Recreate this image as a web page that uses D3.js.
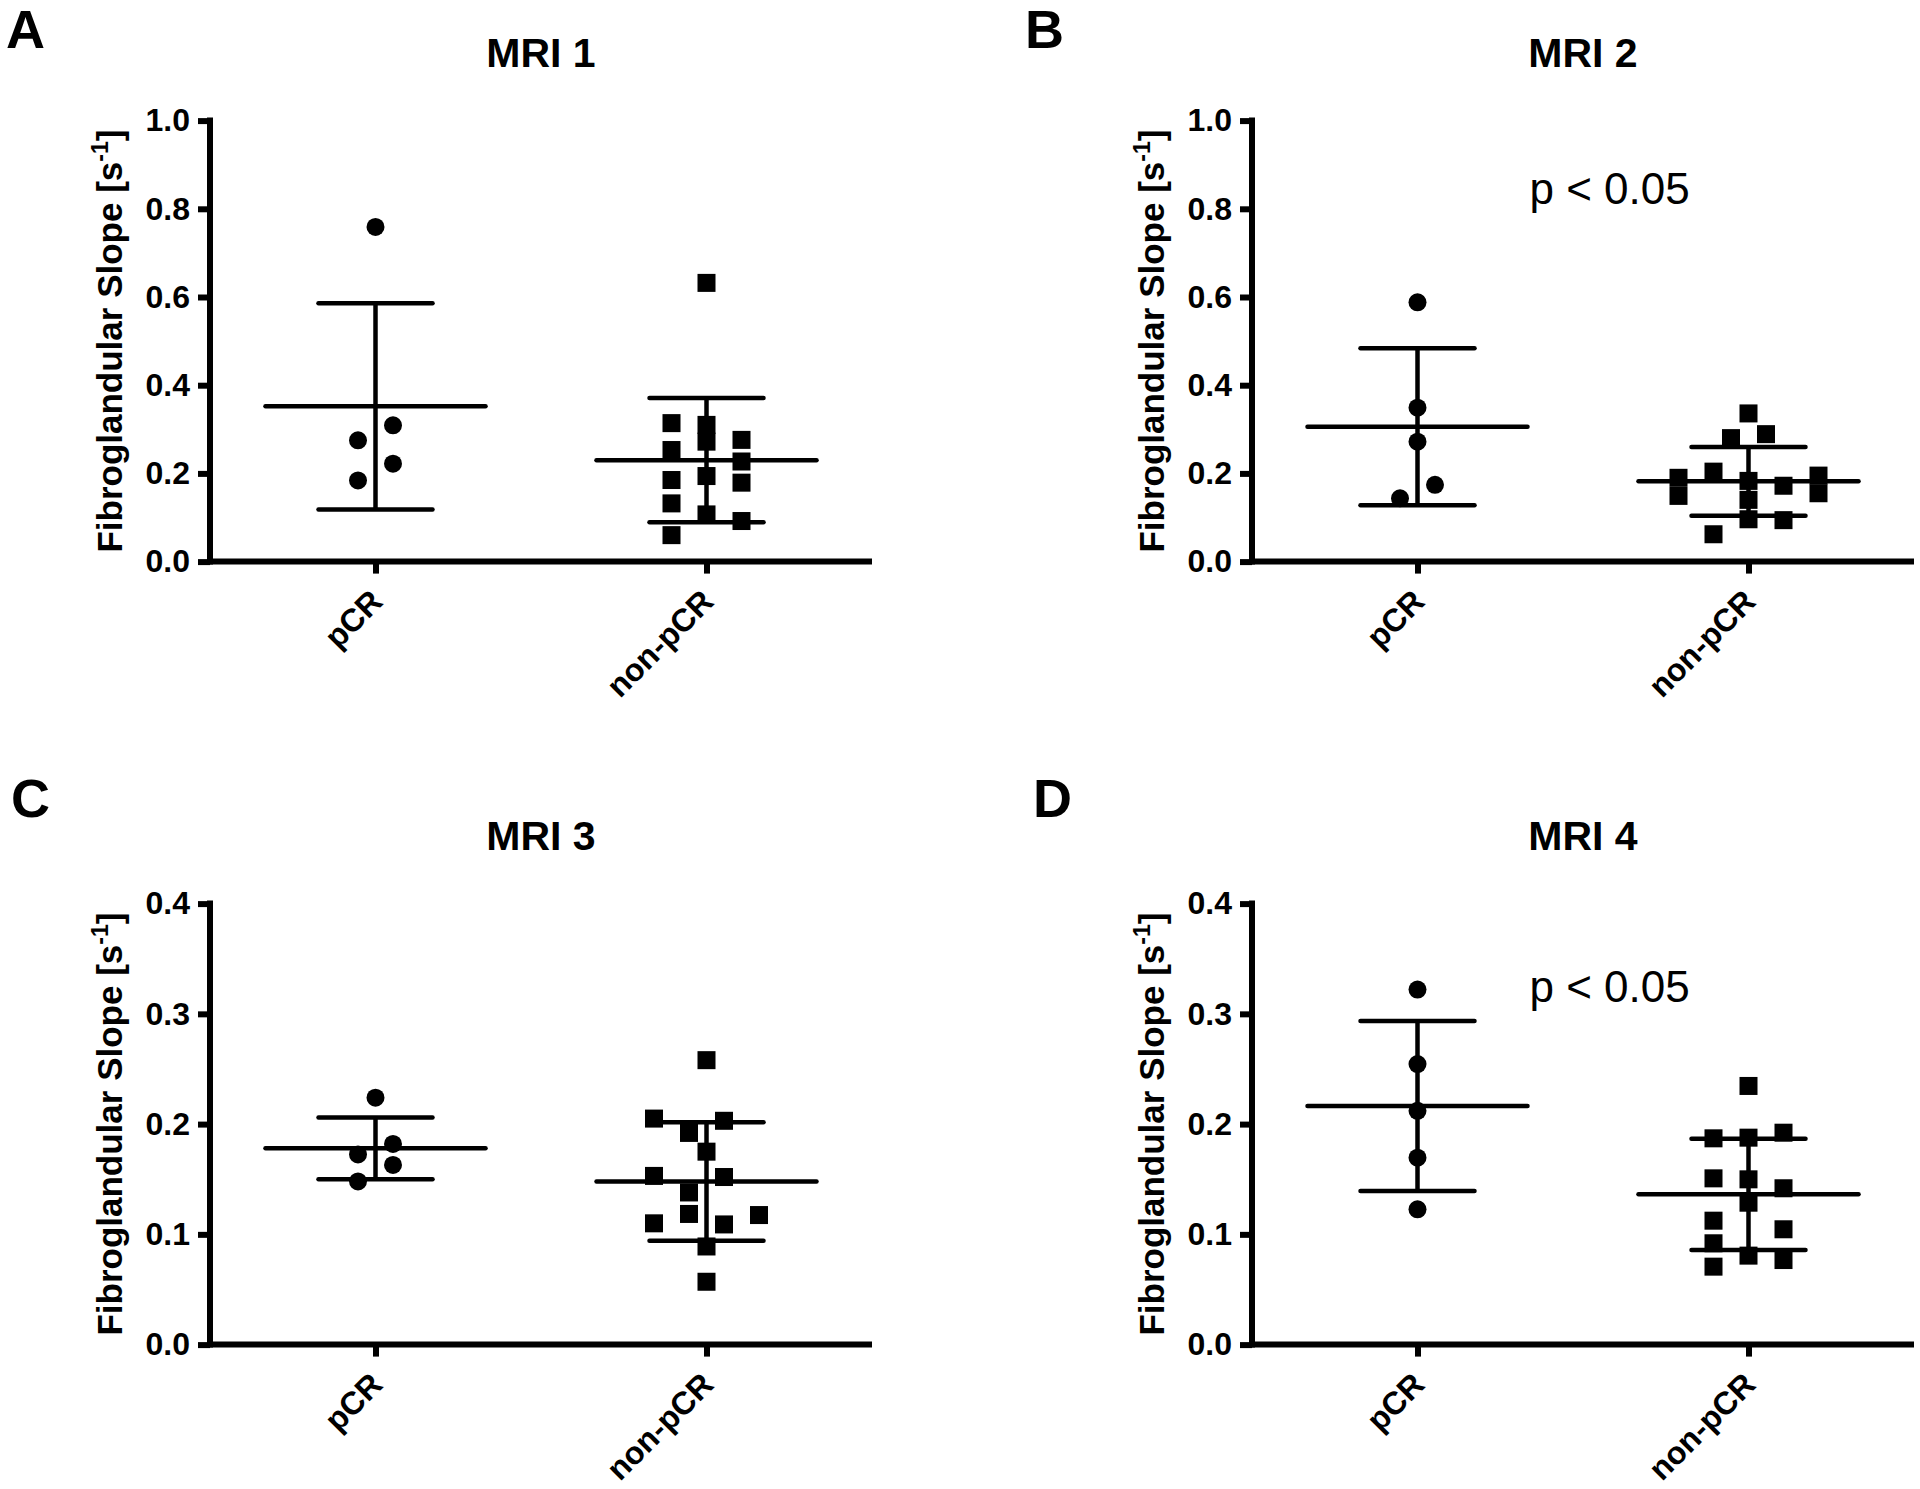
<!DOCTYPE html>
<html>
<head>
<meta charset="utf-8">
<script src="https://cdn.jsdelivr.net/npm/d3@7"></script>
<style>
  html, body { margin: 0; padding: 0; background: #fff; }
  svg { display: block; }
  text { font-family: "Liberation Sans", Arial, Helvetica, sans-serif; fill: #000; }
</style>
</head>
<body>
<svg id="chart" width="1920" height="1489"></svg>
<script>
// ---------- data ----------
const panelLetters = ["A", "B", "C", "D"];
const panelTitles = ["MRI 1", "MRI 2", "MRI 3", "MRI 4"];
const categories = ["pCR", "non-pCR"];
const yAxisTitle = "Fibroglandular Slope [s";
const yAxisTitleSup = "-1";
const yMaxes = [1.0, 1.0, 0.4, 0.4];
const ticksWide = [0.0, 0.2, 0.4, 0.6, 0.8, 1.0];
const ticksNarrow = [0.0, 0.1, 0.2, 0.3, 0.4];
const pValueLabels = ["", "p < 0.05", "", "p < 0.05"];
const pValueY = [null, 0.81, null, 0.311];

// MRI 1
const mri1_pCR = [0.759, 0.309, 0.275, 0.222, 0.184];
const mri1_pCR_col = [0, 0.5, -0.5, 0.5, -0.5];
const mri1_non = [0.632, 0.314, 0.253, 0.185, 0.132, 0.060, 0.310, 0.272, 0.194, 0.107, 0.276, 0.227, 0.179, 0.092];
const mri1_non_col = [0, -1, -1, -1, -1, -1, 0, 0, 0, 0, 1, 1, 1, 1];
const mri1_mean = [0.352, 0.230];
const mri1_sd = [0.234, 0.141];

// MRI 2
const mri2_pCR = [0.588, 0.349, 0.272, 0.174, 0.1435];
const mri2_pCR_col = [0, 0, 0, 0.5, -0.5];
const mri2_non = [0.336, 0.280, 0.289, 0.190, 0.149, 0.204, 0.183, 0.140, 0.096, 0.172, 0.094, 0.195, 0.155, 0.062];
const mri2_non_col = [0, -0.5, 0.5, -2, -2, -1, 0, 0, 0, 1, 1, 2, 2, -1];
const mri2_mean = [0.306, 0.182];
const mri2_sd = [0.178, 0.078];

// MRI 3
const mri3_pCR = [0.224, 0.182, 0.1725, 0.163, 0.148];
const mri3_pCR_col = [0, 0.5, -0.5, 0.5, -0.5];
const mri3_non = [0.258, 0.205, 0.203, 0.192, 0.175, 0.153, 0.152, 0.138, 0.1185, 0.1175, 0.110, 0.109, 0.089, 0.057];
const mri3_non_col = [0, -1.5, 0.5, -0.5, 0, -1.5, 0.5, -0.5, -0.5, 1.5, -1.5, 0.5, 0, 0];
const mri3_mean = [0.178, 0.148];
const mri3_sd = [0.028, 0.0537];

// MRI 4
const mri4_pCR = [0.322, 0.2545, 0.212, 0.1695, 0.1227];
const mri4_pCR_col = [0, 0, 0, 0, 0];
const mri4_non = [0.2346, 0.1871, 0.1877, 0.1922, 0.1508, 0.1499, 0.1418, 0.1287, 0.1124, 0.1046, 0.0919, 0.0807, 0.0767, 0.0707];
const mri4_non_col = [0, -1, 0, 1, -1, 0, 1, 0, -1, 1, -1, 0, 1, -1];
const mri4_mean = [0.2164, 0.1363];
const mri4_sd = [0.0771, 0.0504];

const groupValues = [
  [mri1_pCR, mri1_non], [mri2_pCR, mri2_non], [mri3_pCR, mri3_non], [mri4_pCR, mri4_non]
];
const groupCols = [
  [mri1_pCR_col, mri1_non_col], [mri2_pCR_col, mri2_non_col], [mri3_pCR_col, mri3_non_col], [mri4_pCR_col, mri4_non_col]
];
const groupMeans = [mri1_mean, mri2_mean, mri3_mean, mri4_mean];
const groupSDs = [mri1_sd, mri2_sd, mri3_sd, mri4_sd];

// ---------- layout ----------
const panelDX = 1042, panelDY = 783;
const baseLeft = 210, baseRight = 872, baseTop = 120.6, baseBottom = 561.6;
const letterPos = [[6, 48], [1025, 48], [11, 817], [1033, 817]];
const colStep = 35;
const markerSize = 18;
const meanHalf = 110, capHalf = 57;
const axisW = 6, lineW = 4.5;

const svg = d3.select("#chart");

panelLetters.forEach((letter, i) => {
  const c = i % 2, r = Math.floor(i / 2);
  const left = baseLeft + panelDX * c, right = baseRight + panelDX * c;
  const top = baseTop + panelDY * r, bottom = baseBottom + panelDY * r;

  const x = d3.scalePoint().domain(categories).range([left, right]).padding(0.5);
  const y = d3.scaleLinear().domain([0, yMaxes[i]]).range([bottom, top]);
  const ticks = yMaxes[i] > 0.5 ? ticksWide : ticksNarrow;

  const g = svg.append("g");

  // panel letter
  g.append("text")
    .attr("x", letterPos[i][0]).attr("y", letterPos[i][1])
    .attr("font-size", 54).attr("font-weight", "bold")
    .text(letter);

  // title
  g.append("text")
    .attr("x", (left + right) / 2).attr("y", top - 54)
    .attr("text-anchor", "middle")
    .attr("font-size", 41).attr("font-weight", "bold")
    .text(panelTitles[i]);

  // y axis
  const yAx = g.append("g").attr("transform", `translate(${left},0)`)
    .call(d3.axisLeft(y).tickValues(ticks).tickFormat(d3.format(".1f")).tickSize(12).tickPadding(8));
  yAx.select(".domain").remove();
  yAx.selectAll(".tick line").attr("stroke", "#000").attr("stroke-width", axisW);
  yAx.selectAll(".tick text")
    .attr("font-size", 32).attr("font-weight", "bold")
    .attr("font-family", '"Liberation Sans", Arial, sans-serif').attr("fill", "#000");

  // x axis
  const xAx = g.append("g").attr("transform", `translate(0,${bottom})`)
    .call(d3.axisBottom(x).tickSize(12).tickFormat(""));
  xAx.select(".domain").remove();
  xAx.selectAll(".tick line").attr("stroke", "#000").attr("stroke-width", axisW);

  // axis lines
  g.append("line").attr("x1", left).attr("x2", left)
    .attr("y1", top - axisW / 2).attr("y2", bottom + axisW / 2)
    .attr("stroke", "#000").attr("stroke-width", axisW);
  g.append("line").attr("x1", left).attr("x2", right)
    .attr("y1", bottom).attr("y2", bottom)
    .attr("stroke", "#000").attr("stroke-width", axisW);

  // rotated category labels
  categories.forEach(cat => {
    g.append("text")
      .attr("transform", `translate(${x(cat) + 1},${bottom + 34}) rotate(-45)`)
      .attr("text-anchor", "end").attr("dy", "0.35em")
      .attr("font-size", 32).attr("font-weight", "bold")
      .text(cat);
  });

  // y axis title
  const yt = g.append("text")
    .attr("transform", `translate(${left - 88},${(top + bottom) / 2}) rotate(-90)`)
    .attr("text-anchor", "middle")
    .attr("font-size", 35).attr("font-weight", "bold");
  yt.append("tspan").text(yAxisTitle);
  yt.append("tspan").attr("font-size", 23).attr("dy", -14).text(yAxisTitleSup);
  yt.append("tspan").attr("dy", 14).text("]");

  // mean & SD
  categories.forEach((cat, k) => {
    const cx = x(cat);
    const m = groupMeans[i][k], s = groupSDs[i][k];
    g.append("line").attr("x1", cx).attr("x2", cx)
      .attr("y1", y(m + s)).attr("y2", y(m - s))
      .attr("stroke", "#000").attr("stroke-width", lineW);
    g.append("line").attr("x1", cx - capHalf).attr("x2", cx + capHalf)
      .attr("y1", y(m + s)).attr("y2", y(m + s))
      .attr("stroke", "#000").attr("stroke-width", lineW).attr("stroke-linecap", "round");
    g.append("line").attr("x1", cx - capHalf).attr("x2", cx + capHalf)
      .attr("y1", y(m - s)).attr("y2", y(m - s))
      .attr("stroke", "#000").attr("stroke-width", lineW).attr("stroke-linecap", "round");
    g.append("line").attr("x1", cx - meanHalf).attr("x2", cx + meanHalf)
      .attr("y1", y(m)).attr("y2", y(m))
      .attr("stroke", "#000").attr("stroke-width", lineW).attr("stroke-linecap", "round");
  });

  // points
  const pCRvals = groupValues[i][0], pCRcols = groupCols[i][0];
  g.selectAll("circle.pt").data(pCRvals).enter().append("circle")
    .attr("cx", (d, j) => x(categories[0]) + pCRcols[j] * colStep)
    .attr("cy", d => y(d))
    .attr("r", markerSize / 2).attr("fill", "#000");

  const nonVals = groupValues[i][1], nonCols = groupCols[i][1];
  g.selectAll("rect.pt").data(nonVals).enter().append("rect")
    .attr("x", (d, j) => x(categories[1]) + nonCols[j] * colStep - markerSize / 2)
    .attr("y", d => y(d) - markerSize / 2)
    .attr("width", markerSize).attr("height", markerSize).attr("fill", "#000");

  // p-value
  if (pValueLabels[i]) {
    g.append("text")
      .attr("x", x(categories[0]) + 112).attr("y", y(pValueY[i]))
      .attr("font-size", 44)
      .text(pValueLabels[i]);
  }
});
</script>
</body>
</html>
